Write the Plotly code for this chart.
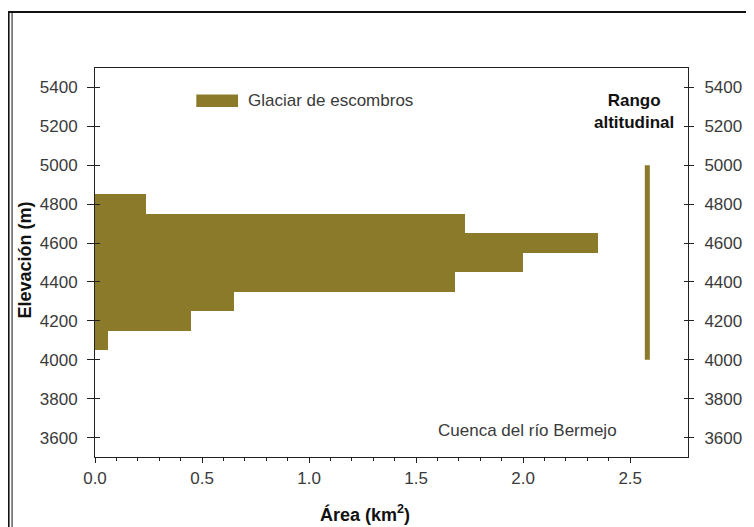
import plotly.graph_objects as go

# ---- data ----
elev_bins = [4100, 4200, 4300, 4400, 4500, 4600, 4700, 4800]          # bin centres (m)
area_km2 = [0.06, 0.45, 0.65, 1.68, 2.00, 2.35, 1.73, 0.24]           # area per 100 m band
range_elev = [4000, 5000]                                              # altitudinal range (m)
x_ticks = [0.0, 0.5, 1.0, 1.5, 2.0, 2.5]
x_ticklabels = ["0.0", "0.5", "1.0", "1.5", "2.0", "2.5"]
y_ticks = [3600, 3800, 4000, 4200, 4400, 4600, 4800, 5000, 5200, 5400]

OLIVE = "#8a7a2a"
AXC = "#222222"
TXT = "#3a3a3a"
FONT = "Liberation Sans, Arial, sans-serif"
SW, SH = 754, 527          # window size
OFF = 8                    # default page body margin
W, H = SW - OFF, SH - OFF  # figure size
PL, PR, PT, PB = 95, 692, 68, 457   # plot-area edges in window pixels
L, T = PL - OFF, PT - OFF
R, B = W - (PR - OFF), H - (PB - OFF)
PW, PH = PR - PL, PB - PT
RANGE_X = 2.58


def px_x(px):
    return (px - PL) / PW


def px_y(py):
    return (PB - py) / PH


minor_vals = [round(i * 0.1, 1) for i in range(1, 25) if i % 5 != 0]

fig = go.Figure()
fig.add_trace(go.Bar(
    x=area_km2, y=elev_bins, orientation="h", width=100,
    marker=dict(color=OLIVE, line=dict(width=0)),
    name="Glaciar de escombros", showlegend=False,
))
fig.add_trace(go.Scatter(
    x=[RANGE_X, RANGE_X], y=range_elev, mode="lines",
    line=dict(color=OLIVE, width=5), showlegend=False, name="Rango altitudinal",
))
# helper traces so overlay axes are drawn
fig.add_trace(go.Scatter(x=[None], y=[None], yaxis="y2", showlegend=False, hoverinfo="skip"))
fig.add_trace(go.Scatter(x=[None], y=[None], yaxis="y3", showlegend=False, hoverinfo="skip"))
fig.add_trace(go.Scatter(x=[None], y=[None], yaxis="y4", showlegend=False, hoverinfo="skip"))

yr = [3500, 5500]
common_y = dict(range=yr, tickvals=y_ticks, showgrid=False, zeroline=False,
                tickcolor=AXC, tickwidth=1, tickfont=dict(family=FONT, size=17, color=TXT))

fig.update_layout(
    width=W, height=H,
    margin=dict(l=L, r=R, t=T, b=B),
    paper_bgcolor="white", plot_bgcolor="white",
    bargap=0,
    font=dict(family=FONT, color=TXT),
    xaxis=dict(range=[0, 2.77], tickvals=x_ticks, ticktext=x_ticklabels,
               ticks="outside", ticklen=5, tickcolor=AXC, tickwidth=1,
               showline=True, linecolor=AXC, linewidth=1, mirror=True,
               showgrid=False, zeroline=False, ticklabelstandoff=1,
               tickfont=dict(family=FONT, size=17, color=TXT),
               minor=dict(tickvals=minor_vals, ticks="outside", ticklen=3,
                          tickcolor=AXC, tickwidth=1, showgrid=False)),
    yaxis=dict(**common_y, ticks="outside", ticklen=7, showline=True,
               linecolor=AXC, linewidth=1, ticklabelstandoff=6),
    yaxis2=dict(**common_y, overlaying="y", side="right", ticks="outside", ticklen=5,
                showline=True, linecolor=AXC, linewidth=1, ticklabelstandoff=7),
    yaxis3=dict(**common_y, overlaying="y", side="left", ticks="inside", ticklen=5,
                showticklabels=False, showline=False),
    yaxis4=dict(**common_y, overlaying="y", side="right", ticks="inside", ticklen=4,
                showticklabels=False, showline=False),
)

shapes = [
    # outer frame
    dict(type="rect", xref="paper", yref="paper", x0=px_x(8), x1=px_x(780),
         y0=px_y(560), y1=px_y(12), line=dict(color="#111111", width=2), layer="above"),
    dict(type="line", xref="paper", yref="paper", x0=px_x(11.5), x1=px_x(11.5),
         y0=px_y(560), y1=px_y(13), line=dict(color="#111111", width=1), layer="above"),
    # legend swatch
    dict(type="rect", xref="paper", yref="paper", x0=px_x(197), x1=px_x(239),
         y0=px_y(107), y1=px_y(94.5), line=dict(width=0), fillcolor=OLIVE),
]
fig.update_layout(shapes=shapes)

annotations = [
    dict(text="Glaciar de escombros", xref="paper", yref="paper", x=px_x(247), y=px_y(100),
         xanchor="left", yanchor="middle", showarrow=False,
         font=dict(family=FONT, size=17, color=TXT)),
    dict(text="<b>Rango<br>altitudinal</b>", xref="paper", yref="paper", x=px_x(638), y=px_y(111.5),
         xanchor="center", yanchor="middle", align="center", showarrow=False,
         font=dict(family=FONT, size=17, color="#111111")),
    dict(text="Cuenca del río Bermejo", xref="paper", yref="paper", x=px_x(530), y=px_y(430.5),
         xanchor="center", yanchor="middle", showarrow=False,
         font=dict(family=FONT, size=17, color=TXT)),
    dict(text="<b>Área (km<sup>2</sup>)</b>", xref="paper", yref="paper", x=px_x(367), y=px_y(513),
         xanchor="center", yanchor="middle", showarrow=False,
         font=dict(family=FONT, size=18, color="#111111")),
    dict(text="<b>Elevación (m)</b>", xref="paper", yref="paper", x=px_x(25), y=px_y(260),
         xanchor="center", yanchor="middle", textangle=-90, showarrow=False,
         font=dict(family=FONT, size=18, color="#111111")),
]
fig.update_layout(annotations=annotations)

fig.write_html("out.html")
